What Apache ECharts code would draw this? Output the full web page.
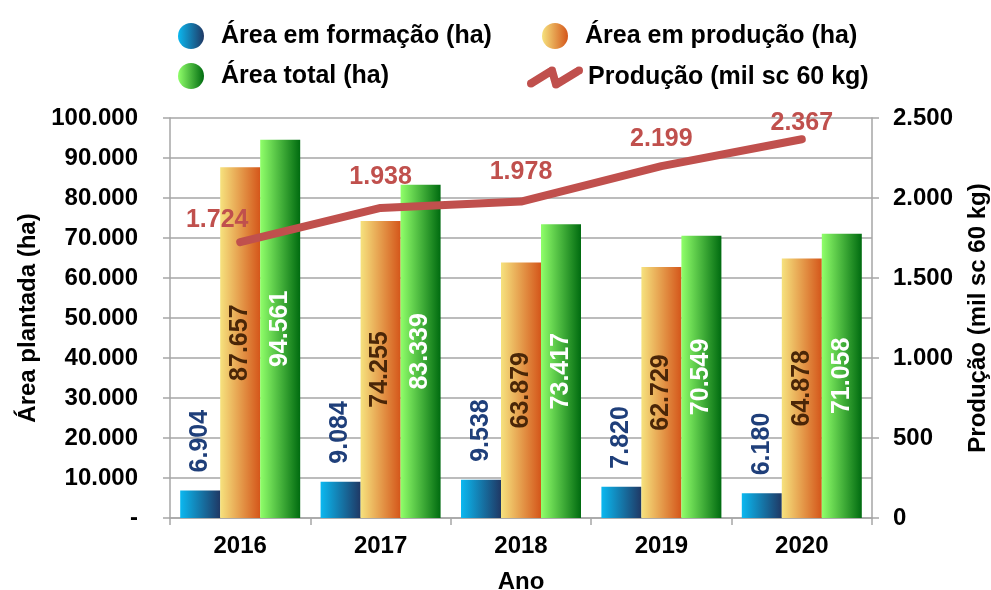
<!DOCTYPE html>
<html>
<head>
<meta charset="utf-8">
<script src="https://cdn.jsdelivr.net/npm/echarts@6/dist/echarts.min.js"></script>
<style>
  html, body { margin: 0; padding: 0; background: #fff; }
  #chart { width: 991px; height: 590px; }
</style>
</head>
<body>
<div id="chart"></div>
<script>
const anos = ['2016', '2017', '2018', '2019', '2020'];
const areaFormacao = [6904, 9084, 9538, 7820, 6180];
const areaProducao = [87657, 74255, 63879, 62729, 64878];
const areaTotal = [94561, 83339, 73417, 70549, 71058];
const producao = [1724, 1938, 1978, 2199, 2367];

const FONT = '"Liberation Sans", Arial, sans-serif';
const RED = '#C0504D';
const GRID = '#A6A6A6';

function fmt(v) {
    return String(Math.round(v)).replace(/\B(?=(\d{3})+(?!\d))/g, '.');
}

function hGrad(c0, c1) {
    return new echarts.graphic.LinearGradient(0, 0, 1, 0, [
        { offset: 0, color: c0 },
        { offset: 1, color: c1 }
    ]);
}

// zig-zag legend icon for the line series (thick stroke drawn as polygons + round joints)
function dot(x, y, r) {
    return 'M' + (x - r) + ',' + y + 'A' + r + ',' + r + ' 0 1 0 ' + (x + r) + ',' + y +
        'A' + r + ',' + r + ' 0 1 0 ' + (x - r) + ',' + y + 'Z';
}
const lineIcon = 'path://' +
    'M6.1,21.4L27.1,8.4L22.9,1.6L1.9,14.6Z' +
    'M21.15,6.1L25.15,20.1L32.85,17.9L28.85,3.9Z' +
    'M31.08,22.42L54.08,8.42L49.92,1.58L26.92,15.58Z' +
    dot(4, 18, 4) + dot(25, 5, 4) + dot(29, 19, 4) + dot(52, 5, 4);

const legendText = { fontFamily: FONT, fontWeight: 'bold', fontSize: 25, color: '#000' };

// label offsets for the line (first one sits left of its point)
const lineLabelOffsets = [[-23, -3], [0, -12], [0, -10], [0, -8], [0, 3]];

const chart = echarts.init(document.getElementById('chart'), null, { renderer: 'canvas' });

chart.setOption({
    backgroundColor: '#fff',
    animation: false,
    legend: [
        {
            left: 173, top: 18, orient: 'vertical', selectedMode: false,
            itemWidth: 26, itemHeight: 26, itemGap: 14, icon: 'circle',
            textStyle: Object.assign({ padding: [0, 0, 0, 12] }, legendText),
            data: ['Área em formação (ha)', 'Área total (ha)']
        },
        {
            left: 537, top: 18, selectedMode: false,
            itemWidth: 28, itemHeight: 26, icon: 'circle',
            textStyle: Object.assign({ padding: [0, 0, 0, 11] }, legendText),
            data: ['Área em produção (ha)']
        },
        {
            left: 522, top: 60, selectedMode: false,
            itemWidth: 56, itemHeight: 24,
            textStyle: Object.assign({ padding: [0, 0, 0, 0] }, legendText),
            data: [{ name: 'Produção (mil sc 60 kg)', icon: lineIcon, itemStyle: { color: RED } }]
        }
    ],
    grid: { left: 170, right: 119, top: 118, bottom: 72, outerBoundsMode: 'none' },
    xAxis: {
        type: 'category',
        data: anos,
        name: 'Ano',
        nameLocation: 'middle',
        nameGap: 52,
        nameTextStyle: { fontFamily: FONT, fontWeight: 'bold', fontSize: 24, color: '#000' },
        axisLine: { lineStyle: { color: GRID, width: 1.5 } },
        axisTick: { show: true, length: 7, lineStyle: { color: GRID, width: 1.5 } },
        axisLabel: { fontFamily: FONT, fontWeight: 'bold', fontSize: 24, color: '#000', margin: 16 }
    },
    yAxis: [
        {
            type: 'value',
            min: 0, max: 100000, interval: 10000,
            name: 'Área plantada (ha)',
            nameLocation: 'middle',
            nameRotate: 90,
            nameGap: 130,
            nameTextStyle: { fontFamily: FONT, fontWeight: 'bold', fontSize: 24, color: '#000' },
            axisLine: { show: true, lineStyle: { color: GRID, width: 1.5 } },
            axisTick: { show: true, length: 7, lineStyle: { color: GRID, width: 1.5 } },
            axisLabel: {
                fontFamily: FONT, fontWeight: 'bold', fontSize: 24, color: '#000', margin: 32,
                formatter: v => (v === 0 ? '-' : fmt(v))
            },
            splitLine: { lineStyle: { color: GRID, width: 1.5 } }
        },
        {
            type: 'value',
            position: 'right',
            min: 0, max: 2500, interval: 500,
            name: 'Produção (mil sc 60 kg)',
            nameLocation: 'middle',
            nameRotate: 90,
            nameGap: 94,
            nameTextStyle: { fontFamily: FONT, fontWeight: 'bold', fontSize: 24, color: '#000' },
            axisLine: { show: true, lineStyle: { color: GRID, width: 1.5 } },
            axisTick: { show: true, length: 7, lineStyle: { color: GRID, width: 1.5 } },
            axisLabel: {
                fontFamily: FONT, fontWeight: 'bold', fontSize: 24, color: '#000', margin: 21,
                formatter: v => fmt(v)
            },
            splitLine: { show: false }
        }
    ],
    series: [
        {
            name: 'Área em formação (ha)',
            type: 'bar',
            barWidth: 40,
            barGap: '0%',
            itemStyle: { color: hGrad('#0BB8F0', '#1F3864') },
            label: {
                show: true, position: 'top', rotate: 90, align: 'left', verticalAlign: 'middle',
                distance: 18, formatter: p => fmt(p.value),
                fontFamily: FONT, fontWeight: 'bold', fontSize: 25, color: '#1F3F7A'
            },
            data: areaFormacao
        },
        {
            name: 'Área em produção (ha)',
            type: 'bar',
            barWidth: 40,
            barGap: '0%',
            itemStyle: { color: hGrad('#F6E27E', '#D4561A') },
            label: {
                show: true, position: 'inside', rotate: 90,
                formatter: p => fmt(p.value),
                fontFamily: FONT, fontWeight: 'bold', fontSize: 25, color: '#4A2608'
            },
            data: areaProducao
        },
        {
            name: 'Área total (ha)',
            type: 'bar',
            barWidth: 40,
            barGap: '0%',
            itemStyle: { color: hGrad('#90FF6A', '#006B10') },
            label: {
                show: true, position: 'inside', rotate: 90,
                formatter: p => fmt(p.value),
                fontFamily: FONT, fontWeight: 'bold', fontSize: 25, color: '#fff'
            },
            data: areaTotal
        },
        {
            name: 'Produção (mil sc 60 kg)',
            type: 'line',
            yAxisIndex: 1,
            symbol: 'circle',
            symbolSize: 1,
            itemStyle: { color: RED },
            lineStyle: { color: RED, width: 8, cap: 'round', join: 'round' },
            z: 5,
            label: {
                show: true, position: 'top', distance: 6,
                formatter: p => fmt(p.value),
                fontFamily: FONT, fontWeight: 'bold', fontSize: 25, color: RED
            },
            data: producao.map((v, i) => ({ value: v, label: { offset: lineLabelOffsets[i] } }))
        }
    ]
});
</script>
</body>
</html>
